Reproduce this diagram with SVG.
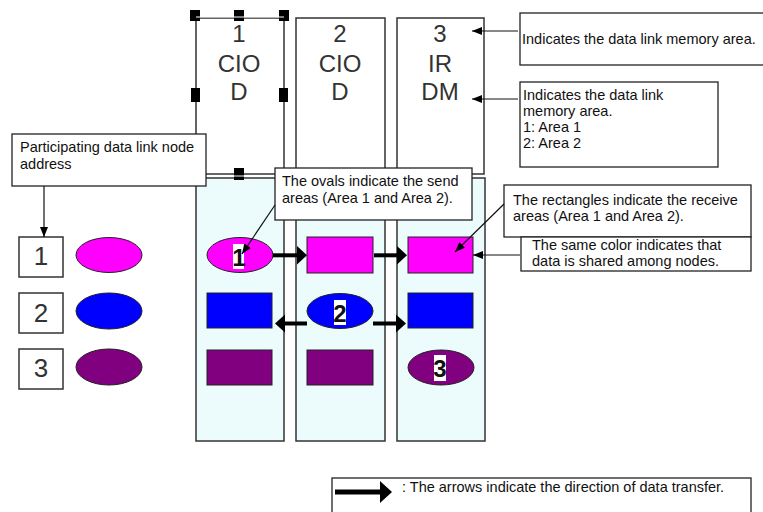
<svg xmlns="http://www.w3.org/2000/svg" width="763" height="512" viewBox="0 0 763 512">
<defs>
<style>
.bg{fill:#ffffff}
.panel{fill:#ffffff;stroke:#333;stroke-width:1.5}
.bpanel{fill:#ecfcfc;stroke:#333;stroke-width:1.5}
.call{fill:#ffffff;stroke:#222;stroke-width:1.3}
.ct{font-family:"Liberation Sans",Arial,sans-serif;font-size:14.5px;fill:#111}
.pt{font-family:"Liberation Sans",Arial,sans-serif;font-size:24px;fill:#333;text-anchor:middle}
.dt{font-family:"Liberation Sans",Arial,sans-serif;font-size:26px;fill:#333;text-anchor:middle}
.et{font-family:"Liberation Sans",Arial,sans-serif;font-size:24px;font-weight:bold;fill:#111;text-anchor:middle}
.mag{fill:#ff00ff;stroke:#222;stroke-width:1}
.blu{fill:#0000ff;stroke:#222;stroke-width:1}
.pur{fill:#800080;stroke:#222;stroke-width:1}
.lbl{fill:#ffffff}
.box{fill:#ffffff;stroke:#333;stroke-width:1.5}
.thin{stroke:#111;stroke-width:1.2;fill:none;marker-end:url(#ah)}
.thick{fill:#000}
.hdl{fill:#000}
</style>
<marker id="ah" markerUnits="userSpaceOnUse" markerWidth="11" markerHeight="8" refX="10" refY="4" orient="auto">
<path d="M0,0 L10,4 L0,8 z" fill="#000"/>
</marker>
</defs>
<rect class="bg" x="0" y="0" width="763" height="512"/>

<g id="column1">
<rect class="panel" x="196" y="18" width="88" height="156"/>
<text class="pt" x="239" y="42">1</text>
<text class="pt" x="239" y="72">CIO</text>
<text class="pt" x="239" y="100">D</text>
<rect class="bpanel" x="196" y="178" width="88" height="263"/>
</g>
<g id="column2">
<rect class="panel" x="296" y="18" width="89" height="156"/>
<text class="pt" x="340" y="42">2</text>
<text class="pt" x="340" y="72">CIO</text>
<text class="pt" x="340" y="100">D</text>
<rect class="bpanel" x="296" y="178" width="89" height="263"/>
</g>
<g id="column3">
<rect class="panel" x="397" y="18" width="87" height="156"/>
<text class="pt" x="440" y="42">3</text>
<text class="pt" x="440" y="72">IR</text>
<text class="pt" x="440" y="100">DM</text>
<rect class="bpanel" x="397" y="178" width="88" height="263"/>
</g>

<g id="selection-handles">
<rect class="hdl" x="190" y="10" width="10" height="11"/>
<rect class="hdl" x="234" y="10" width="10" height="11"/>
<rect class="hdl" x="279" y="10" width="10" height="11"/>
<rect class="hdl" x="191" y="88" width="9" height="14"/>
<rect class="hdl" x="279" y="88" width="9" height="14"/>
<rect class="hdl" x="234" y="168" width="10" height="12"/>
<line x1="196" y1="17" x2="284" y2="17" stroke="#fff" stroke-width="1"/>
<line x1="196" y1="176" x2="284" y2="176" stroke="#fff" stroke-width="1"/>
</g>

<g id="legend-nodes">
<rect class="box" x="19" y="237" width="44" height="40"/>
<text class="dt" x="41" y="265">1</text>
<ellipse class="mag" cx="109" cy="255" rx="33" ry="17.5"/>
<rect class="box" x="19" y="293" width="44" height="40"/>
<text class="dt" x="41" y="322">2</text>
<ellipse class="blu" cx="109" cy="311" rx="33" ry="18"/>
<rect class="box" x="19" y="349" width="44" height="40"/>
<text class="dt" x="41" y="377">3</text>
<ellipse class="pur" cx="109" cy="367" rx="33" ry="18"/>
</g>

<g id="areas-col1">
<ellipse class="mag" cx="240" cy="255" rx="33" ry="17.5"/>
<rect class="lbl" x="233" y="244" width="11" height="25"/>
<text class="et" x="239" y="266">1</text>
<rect class="blu" x="207" y="293" width="65" height="35"/>
<rect class="pur" x="207" y="350" width="65" height="35"/>
</g>
<g id="areas-col2">
<rect class="mag" x="307" y="237" width="66" height="36"/>
<ellipse class="blu" cx="340" cy="311" rx="33" ry="17.5"/>
<rect class="lbl" x="334" y="300" width="12" height="25"/>
<text class="et" x="340" y="322">2</text>
<rect class="pur" x="307" y="350" width="66" height="35"/>
</g>
<g id="areas-col3">
<rect class="mag" x="408" y="237" width="65" height="36"/>
<rect class="blu" x="408" y="293" width="65" height="35"/>
<ellipse class="pur" cx="441" cy="367.5" rx="33" ry="17.5"/>
<rect class="lbl" x="434" y="355" width="12" height="26"/>
<text class="et" x="440" y="377">3</text>
</g>

<g id="callout-memory">
<rect class="call" x="520" y="13" width="246" height="52"/>
<text class="ct" x="522" y="44">Indicates the data link memory area.</text>
</g>
<g id="callout-memory-area">
<rect class="call" x="520" y="82" width="198" height="85"/>
<text class="ct" x="523" y="100">Indicates the data link</text>
<text class="ct" x="523" y="116">memory area.</text>
<text class="ct" x="523" y="132">1: Area 1</text>
<text class="ct" x="523" y="148">2: Area 2</text>
</g>
<g id="callout-node-address">
<rect class="call" x="12" y="134" width="194" height="52"/>
<text class="ct" x="20" y="152">Participating data link node</text>
<text class="ct" x="20" y="169">address</text>
</g>
<g id="callout-ovals">
<rect class="call" x="275" y="168" width="197" height="52"/>
<text class="ct" x="282" y="186">The ovals indicate the send</text>
<text class="ct" x="282" y="203">areas (Area 1 and Area 2).</text>
</g>
<g id="callout-rectangles">
<rect class="call" x="504" y="185" width="247" height="52"/>
<text class="ct" x="513" y="205">The rectangles indicate the receive</text>
<text class="ct" x="513" y="221">areas (Area 1 and Area 2).</text>
</g>
<g id="callout-color">
<rect class="call" x="521" y="237" width="230" height="34"/>
<text class="ct" x="532" y="250">The same color indicates that</text>
<text class="ct" x="532" y="266">data is shared among nodes.</text>
</g>
<g id="legend-arrow">
<rect class="call" x="332" y="478" width="419" height="40"/>
<rect class="thick" x="335" y="489.5" width="46" height="5"/>
<polygon class="thick" points="380,481 392,492 380,503"/>
<text class="ct" x="402" y="492">: The arrows indicate the direction of data transfer.</text>
</g>

<g id="connectors">
<line class="thin" x1="518" y1="31" x2="472" y2="31"/>
<line class="thin" x1="518" y1="99" x2="472" y2="99"/>
<line class="thin" x1="44" y1="186" x2="44" y2="237"/>
<line class="thin" x1="275" y1="205" x2="242" y2="254"/>
<line class="thin" x1="504" y1="204" x2="455" y2="252"/>
<line class="thin" x1="520" y1="255" x2="473" y2="255"/>
<rect class="thick" x="273" y="253.3" width="25" height="4"/>
<polygon class="thick" points="297,246 307,255.3 297,264.5"/>
<rect class="thick" x="374" y="253.3" width="24" height="4"/>
<polygon class="thick" points="397,246 407,255.3 397,264.5"/>
<rect class="thick" x="284" y="321.5" width="23" height="4"/>
<polygon class="thick" points="285,314.5 275,323.5 285,332.5"/>
<rect class="thick" x="373" y="321.5" width="24" height="4"/>
<polygon class="thick" points="396,314.5 406,323.5 396,332.5"/>
</g>
</svg>
